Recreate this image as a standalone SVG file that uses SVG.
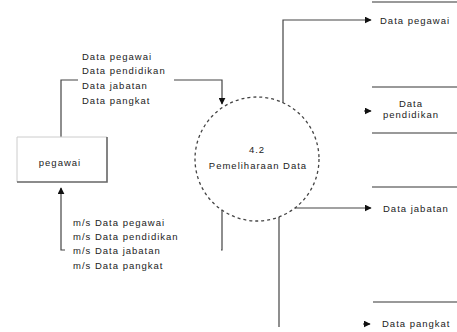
<svg xmlns="http://www.w3.org/2000/svg" width="457" height="332" viewBox="0 0 457 332">
<style>
text{font-family:"Liberation Sans",Arial,sans-serif;font-size:9.5px;fill:#222;letter-spacing:1px}
.c{fill:none;stroke:#444;stroke-width:1.2}
.st{stroke:#777;stroke-width:1.6;fill:none}
.lb{fill:#fff;stroke:none}
</style>
<defs>
<marker id="ah" viewBox="0 0 10 10" refX="9" refY="5" markerWidth="7" markerHeight="7" orient="auto" markerUnits="userSpaceOnUse">
<path d="M0,0 L10,5 L0,10 z" fill="#111"/>
</marker>
</defs>
<rect width="457" height="332" fill="#fff"/>
<g id="connectors">
<path class="c" d="M61,137 V80 H222 V104" marker-end="url(#ah)"/>
<path class="c" d="M222,210 V250 H61 V188" marker-end="url(#ah)"/>
<path class="c" d="M283,103 V20 H371" marker-end="url(#ah)"/>
<path class="c" d="M364,111 H371" marker-end="url(#ah)"/>
<path class="c" d="M295,208 H371" marker-end="url(#ah)"/>
<path class="c" d="M279,217 V327"/>
<path class="c" d="M363,324 H370" marker-end="url(#ah)"/>
</g>
<g id="label-in">
<rect class="lb" x="78" y="50" width="96" height="56"/>
<text x="82" y="60">Data pegawai</text>
<text x="82" y="74">Data pendidikan</text>
<text x="82" y="89">Data jabatan</text>
<text x="82" y="104">Data pangkat</text>
</g>
<g id="label-out">
<rect class="lb" x="65" y="214" width="156" height="58"/>
<text x="73" y="226">m/s Data pegawai</text>
<text x="73" y="240">m/s Data pendidikan</text>
<text x="73" y="254">m/s Data jabatan</text>
<text x="73" y="269">m/s Data pangkat</text>
</g>
<g id="pegawai">
<path d="M17,182 V137 H107" fill="none" stroke="#ccc" stroke-width="1"/>
<path d="M17,182 H107 V137" fill="none" stroke="#666" stroke-width="1.6"/>
<text x="60" y="166" text-anchor="middle">pegawai</text>
</g>
<g id="proses">
<circle cx="257" cy="159" r="62" fill="none" stroke="#444" stroke-width="1.3" stroke-dasharray="3,3"/>
<text x="257" y="153" text-anchor="middle">4.2</text>
<text x="258" y="169" text-anchor="middle">Pemeliharaan Data</text>
</g>
<g id="store-pegawai">
<line class="st" x1="372" y1="2" x2="457" y2="2"/>
<text x="380" y="24">Data pegawai</text>
</g>
<g id="store-pendidikan">
<line class="st" x1="372" y1="87" x2="457" y2="87"/>
<line class="st" x1="372" y1="133" x2="457" y2="133"/>
<text x="411" y="107" text-anchor="middle">Data</text>
<text x="411" y="118" text-anchor="middle">pendidikan</text>
</g>
<g id="store-jabatan">
<line class="st" x1="372" y1="187" x2="457" y2="187"/>
<text x="383" y="212">Data jabatan</text>
</g>
<g id="store-pangkat">
<line class="st" x1="373" y1="302" x2="457" y2="302"/>
<text x="382" y="327">Data pangkat</text>
</g>
</svg>
